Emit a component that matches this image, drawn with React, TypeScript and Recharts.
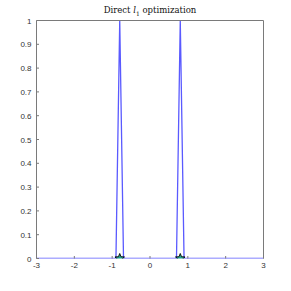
import React from 'react';
import { ComposedChart, Line, Scatter, XAxis, YAxis } from 'recharts';

// recovered signal (zero everywhere except two spikes)
const signalX = [-3, -0.9, -0.8, -0.7, 0.7, 0.8, 0.9, 3];
const signalY = [0, 0, 1, 0, 0, 1, 0, 0];

// true spike locations (star markers)
const starX = [-0.8, 0.8];
const starY = [0, 0];

const xTicks = [-3, -2, -1, 0, 1, 2, 3];
const yTicks = [0, 0.1, 0.2, 0.3, 0.4, 0.5, 0.6, 0.7, 0.8, 0.9, 1];

const lineData = signalX.map((x, i) => ({ x, y: signalY[i] }));
const starData = starX.map((x, i) => ({ x, y: starY[i] }));

const AXIS = '#7a7a7a';
const LABEL = '#333';
const FONT = 'Liberation Sans, Arial, sans-serif';

const BottomTick = (props: any) => {
  const { x, y, payload } = props;
  return (
    <g>
      <line x1={x} y1={y} x2={x} y2={y - 2.5} stroke={AXIS} />
      <text x={x} y={y + 9} textAnchor="middle" fontSize={8} fontFamily={FONT} fill={LABEL}>
        {payload.value}
      </text>
    </g>
  );
};

const TopTick = (props: any) => {
  const { x, y } = props;
  return <line x1={x} y1={y} x2={x} y2={y + 2.5} stroke={AXIS} />;
};

const LeftTick = (props: any) => {
  const { x, y, payload } = props;
  return (
    <g>
      <line x1={x} y1={y} x2={x + 2.5} y2={y} stroke={AXIS} />
      <text x={x - 5} y={y + 3} textAnchor="end" fontSize={8} fontFamily={FONT} fill={LABEL}>
        {payload.value}
      </text>
    </g>
  );
};

const RightTick = (props: any) => {
  const { x, y } = props;
  return <line x1={x} y1={y} x2={x - 2.5} y2={y} stroke={AXIS} />;
};

const Star = (props: any) => {
  const cx = Number(props.cx);
  const cy = Number(props.cy);
  const R = 5;
  const r = 2.2;
  const pts: string[] = [];
  for (let k = 0; k < 10; k++) {
    const rad = k % 2 === 0 ? R : r;
    const a = -Math.PI / 2 + (k * Math.PI) / 5;
    pts.push(`${(cx + rad * Math.cos(a)).toFixed(2)},${(cy + rad * Math.sin(a)).toFixed(2)}`);
  }
  return <polygon points={pts.join(' ')} fill="#22a08f" stroke="#000" strokeWidth={0.9} strokeLinejoin="round" />;
};

export default function App() {
  return (
    <div style={{ position: 'absolute', left: 0, top: 0, width: 291, height: 291, background: '#fff' }}>
      <div
        style={{
          position: 'absolute',
          left: 37,
          width: 226,
          top: 5,
          textAlign: 'center',
          fontFamily: 'DejaVu Serif, Liberation Serif, serif',
          fontSize: 8.5,
          color: '#111',
        }}
      >
        Direct <i>l</i>
        <sub style={{ fontSize: 6 }}>1</sub> optimization
      </div>
      <ComposedChart width={291} height={291} margin={{ top: 0, right: 0, left: 0, bottom: 0 }}>
        <XAxis
          xAxisId="b"
          dataKey="x"
          type="number"
          domain={[-3, 3]}
          ticks={xTicks}
          height={32.5}
          tickSize={0}
          tickMargin={0}
          tick={<BottomTick />}
          axisLine={false}
          allowDataOverflow
        />
        <XAxis
          xAxisId="t"
          orientation="top"
          type="number"
          domain={[-3, 3]}
          ticks={xTicks}
          height={20.5}
          tickSize={0}
          tickMargin={0}
          tick={<TopTick />}
          axisLine={{ stroke: AXIS }}
        />
        <YAxis
          yAxisId="l"
          dataKey="y"
          type="number"
          domain={[0, 1]}
          ticks={yTicks}
          width={36.5}
          tickSize={0}
          tickMargin={0}
          tick={<LeftTick />}
          axisLine={{ stroke: AXIS }}
          allowDataOverflow
        />
        <YAxis
          yAxisId="r"
          orientation="right"
          type="number"
          domain={[0, 1]}
          ticks={yTicks}
          width={27.5}
          tickSize={0}
          tickMargin={0}
          tick={<RightTick />}
          axisLine={{ stroke: AXIS }}
        />
        <Line
          xAxisId="b"
          yAxisId="l"
          data={lineData}
          dataKey="y"
          type="linear"
          stroke="#5a5aff"
          strokeWidth={1.3}
          dot={false}
          isAnimationActive={false}
        />
        <Scatter
          xAxisId="b"
          yAxisId="l"
          data={starData}
          dataKey="y"
          shape={<Star />}
          isAnimationActive={false}
        />
      </ComposedChart>
    </div>
  );
}
